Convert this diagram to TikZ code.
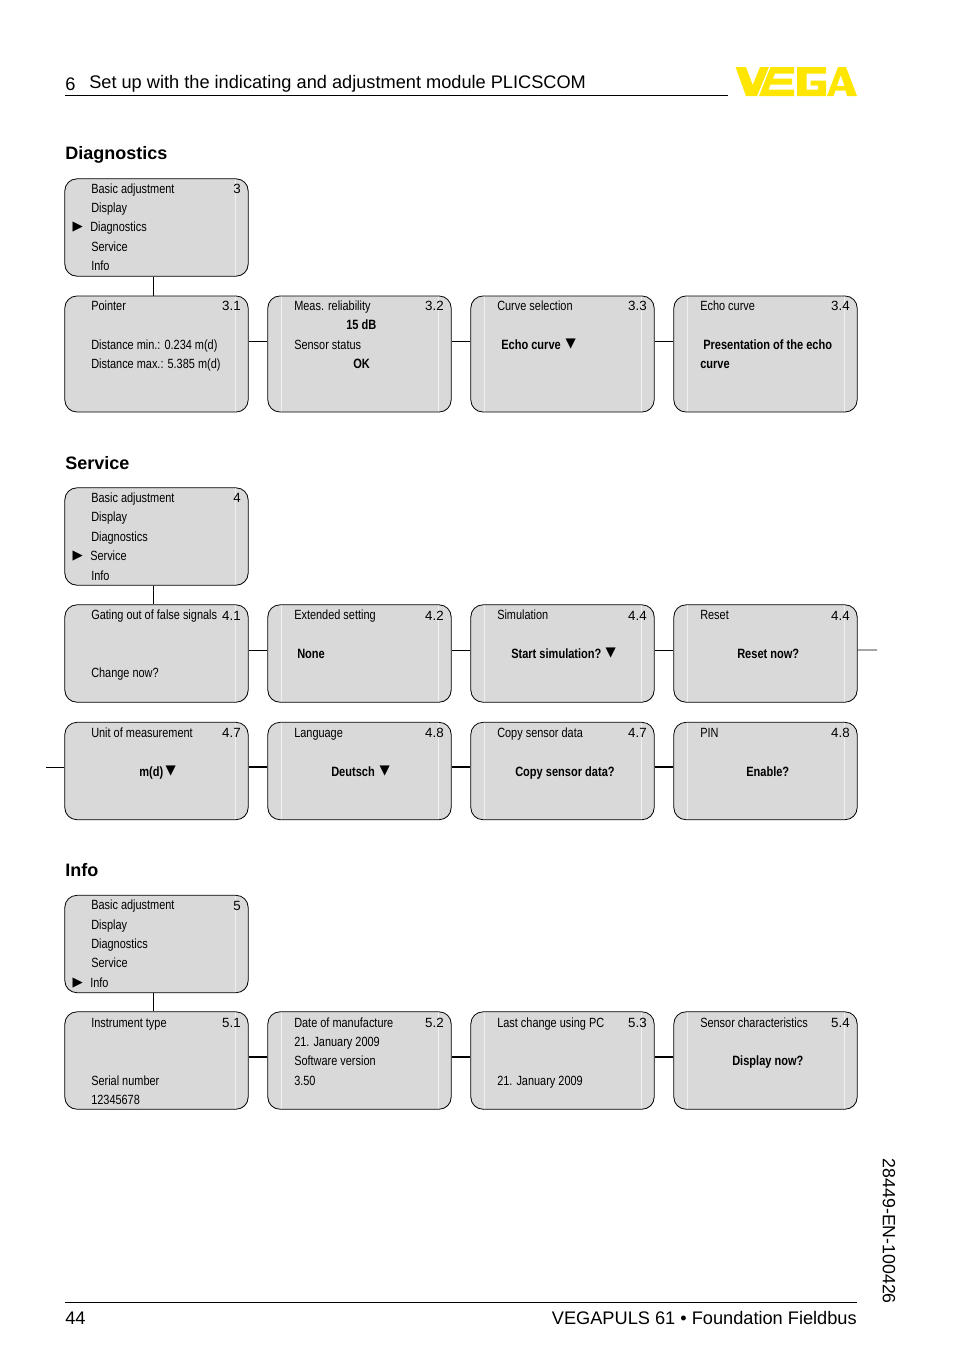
\documentclass[tikz,border=0pt]{standalone}
\usepackage{fontspec}
\setmainfont{Liberation Sans}
\newfontfamily\menufont[FakeStretch=0.82]{Liberation Sans}
\newfontfamily\symfont{DejaVu Sans}
\definecolor{boxgray}{HTML}{D9D9D9}
\definecolor{logoyellow}{HTML}{FFE600}
\usetikzlibrary{positioning}

\begin{document}
\begin{tikzpicture}[
		x=0.75pt, y=-0.75pt,
		menubox/.style={draw, fill=boxgray, rounded corners=9pt, line width=0.6pt, minimum width=137.5pt, inner sep=0pt,
			path picture={\draw[white!60!boxgray, line width=0.4pt] ([xshift=-10pt]path picture bounding box.north east) -- ([xshift=-10pt]path picture bounding box.south east);}},
		leftline/.style={draw, fill=boxgray, rounded corners=9pt, line width=0.6pt, minimum width=137.5pt, inner sep=0pt,
			path picture={\draw[white!60!boxgray, line width=0.4pt] ([xshift=-10pt]path picture bounding box.north east) -- ([xshift=-10pt]path picture bounding box.south east);
				\draw[white!60!boxgray, line width=0.4pt] ([xshift=10pt]path picture bounding box.north west) -- ([xshift=10pt]path picture bounding box.south west);}},
		menutext/.style={anchor=west, inner sep=0pt, text height=7pt, text depth=2pt, yshift=-1.5pt, font=\menufont\fontsize{10}{12}\selectfont},
		menubold/.style={anchor=west, inner sep=0pt, text height=7pt, text depth=2pt, yshift=-1.5pt, font=\menufont\bfseries\fontsize{10.1}{12}\selectfont},
		menunum/.style={anchor=east, inner sep=0pt, text height=7pt, text depth=2pt, yshift=-1.5pt, font=\fontsize{10}{12}\selectfont},
		menusym/.style={inner sep=0pt, xshift=0.5pt, yshift=-0.6pt, font=\symfont\fontsize{10}{12}\selectfont},
		heading/.style={anchor=west, inner sep=0pt, text height=10pt, text depth=3pt, yshift=-1pt, font=\bfseries\fontsize{13.5}{16}\selectfont},
		pagetext/.style={inner sep=0pt, yshift=-1pt, font=\fontsize{13.65}{16}\selectfont},
		link/.style={line width=0.6pt},
		thicklink/.style={line width=1.1pt}
	]

	\useasboundingbox (0,0) rectangle (954,1354);

	% page head and foot
	\node[pagetext, anchor=west] (chapnum) at (65,82.5) {6};
	\node[pagetext, anchor=west] (chaptitle) at (89,82.5) {Set up with the indicating and adjustment module PLICSCOM};
	\coordinate (headl) at (65,95);
	\coordinate (headr) at (728,95);
	\draw[link] (headl) -- (headr);
	\coordinate (footl) at (65,1302);
	\coordinate (footr) at (857,1302);
	\draw[link] (footl) -- (footr);
	\node[pagetext, anchor=west] (pagenum) at (65,1317) {44};
	\node[pagetext, anchor=east] (product) at (857,1317) {VEGAPULS 61 • Foundation Fieldbus};
	\node[pagetext, rotate=-90, font=\fontsize{13.3}{16}\selectfont] (docnum) at (889,1230) {28449-EN-100426};

	% logo
	\fill[logoyellow] (735.5,67) -- (746,67) -- (752.7,85) -- (760,67) -- (769,67) -- (757,96) -- (746,96) -- cycle;
	\fill[logoyellow] (770.5,67) -- (794,67) -- (794,73.5) -- (775,73.5) -- (773,78.5) -- (792,78.5) -- (792,84.5) -- (770.5,84.5) -- (768.5,89.5) -- (794,89.5) -- (794,96) -- (759,96) -- cycle;
	\fill[logoyellow] (797,67) -- (826,67) -- (826,73.5) -- (806.5,73.5) -- (806.5,89.5) -- (818,89.5) -- (818,85.5) -- (810.5,85.5) -- (810.5,80.5) -- (826,80.5) -- (826,96) -- (797,96) -- cycle;
	\fill[logoyellow, even odd rule] (838,67) -- (846,67) -- (857,96) -- (847,96) -- (845.5,90.5) -- (835.5,90.5) -- (833.5,96) -- (827,96) -- cycle (837,86) -- (844.5,86) -- (840.7,75) -- cycle;

	% Diagnostics
	\node[heading] (diaghead) at (65,153) {Diagnostics};

	\node[menubox, minimum height=73pt] (diag0) at (156.5,227.5) {};
	\node[menutext] (diag0a) at (91,188) {Basic adjustment};
	\node[menutext] (diag0b) at (91,207) {Display};
	\node[menusym] (diag0m) at (77,226) {▶};
	\node[menutext] (diag0c) at (90,226) {Diagnostics};
	\node[menutext] (diag0d) at (91,246) {Service};
	\node[menutext] (diag0e) at (91,265) {Info};
	\node[menunum] (diag0n) at (241,188) {3};

	\node[menubox, minimum height=87pt] (diag1) at (156.5,354) {};
	\node[menutext] (diag1a) at (91,305) {Pointer};
	\node[menutext] (diag1b) at (91,344) {Distance min.: 0.234 m(d)};
	\node[menutext] (diag1c) at (91,363) {Distance max.: 5.385 m(d)};
	\node[menunum] (diag1n) at (241,305) {3.1};

	\node[leftline, minimum height=87pt] (diag2) at (359.5,354) {};
	\node[menutext] (diag2a) at (294,305) {Meas. reliability};
	\node[menubold] (diag2b) at (346,324) {15 dB};
	\node[menutext] (diag2c) at (294,344) {Sensor status};
	\node[menubold] (diag2d) at (353,363) {OK};
	\node[menunum] (diag2n) at (444,305) {3.2};

	\node[leftline, minimum height=87pt] (diag3) at (562.5,354) {};
	\node[menutext] (diag3a) at (497,305) {Curve selection};
	\node[menubold] (diag3b) at (501,344) {Echo curve};
	\node[menusym] (diag3m) at (570,343) {▼};
	\node[menunum] (diag3n) at (647,305) {3.3};

	\node[leftline, minimum height=87pt] (diag4) at (765.5,354) {};
	\node[menutext] (diag4a) at (700,305) {Echo curve};
	\node[menubold] (diag4b) at (703,344) {Presentation of the echo};
	\node[menubold] (diag4c) at (700,363) {curve};
	\node[menunum] (diag4n) at (850,305) {3.4};

	\draw[link] ([xshift=-2.6pt]diag0.south) -- ([xshift=-2.6pt]diag1.north);
	\draw[link] ([yshift=9.4pt]diag1.east) -- ([yshift=9.4pt]diag2.west);
	\draw[link] ([yshift=9.4pt]diag2.east) -- ([yshift=9.4pt]diag3.west);
	\draw[link] ([yshift=9.4pt]diag3.east) -- ([yshift=9.4pt]diag4.west);

	% Service
	\node[heading] (servhead) at (65,463) {Service};

	\node[menubox, minimum height=73pt] (serv0) at (156.5,536.5) {};
	\node[menutext] (serv0a) at (91,497) {Basic adjustment};
	\node[menutext] (serv0b) at (91,516) {Display};
	\node[menutext] (serv0c) at (91,536) {Diagnostics};
	\node[menusym] (serv0m) at (77,555) {▶};
	\node[menutext] (serv0d) at (90,555) {Service};
	\node[menutext] (serv0e) at (91,575) {Info};
	\node[menunum] (serv0n) at (241,497) {4};

	\node[menubox, minimum height=73pt] (serv1) at (156.5,653.5) {};
	\node[menutext] (serv1a) at (91,614) {Gating out of false signals};
	\node[menutext] (serv1b) at (91,672) {Change now?};
	\node[menunum] (serv1n) at (241,615) {4.1};

	\node[leftline, minimum height=73pt] (serv2) at (359.5,653.5) {};
	\node[menutext] (serv2a) at (294,614) {Extended setting};
	\node[menubold] (serv2b) at (297,653) {None};
	\node[menunum] (serv2n) at (444,615) {4.2};

	\node[leftline, minimum height=73pt] (serv3) at (562.5,653.5) {};
	\node[menutext] (serv3a) at (497,614) {Simulation};
	\node[menubold] (serv3b) at (511,653) {Start simulation?};
	\node[menusym] (serv3m) at (610,652) {▼};
	\node[menunum] (serv3n) at (647,615) {4.4};

	\node[leftline, minimum height=73pt] (serv4) at (765.5,653.5) {};
	\node[menutext] (serv4a) at (700,614) {Reset};
	\node[menubold] (serv4b) at (737,653) {Reset now?};
	\node[menunum] (serv4n) at (850,615) {4.4};

	\node[menubox, minimum height=73pt] (serv5) at (156.5,771) {};
	\node[menutext] (serv5a) at (91,732) {Unit of measurement};
	\node[menubold] (serv5b) at (139,771) {m(d)};
	\node[menusym] (serv5m) at (170,770) {▼};
	\node[menunum] (serv5n) at (241,732) {4.7};

	\node[leftline, minimum height=73pt] (serv6) at (359.5,771) {};
	\node[menutext] (serv6a) at (294,732) {Language};
	\node[menubold] (serv6b) at (331,771) {Deutsch};
	\node[menusym] (serv6m) at (384,770) {▼};
	\node[menunum] (serv6n) at (444,732) {4.8};

	\node[leftline, minimum height=73pt] (serv7) at (562.5,771) {};
	\node[menutext] (serv7a) at (497,732) {Copy sensor data};
	\node[menubold] (serv7b) at (515,771) {Copy sensor data?};
	\node[menunum] (serv7n) at (647,732) {4.7};

	\node[leftline, minimum height=73pt] (serv8) at (765.5,771) {};
	\node[menutext] (serv8a) at (700,732) {PIN};
	\node[menubold] (serv8b) at (746,771) {Enable?};
	\node[menunum] (serv8n) at (850,732) {4.8};

	\coordinate (servout) at (877,650);
	\coordinate (servin) at (46,767);

	\draw[link] ([xshift=-2.6pt]serv0.south) -- ([xshift=-2.6pt]serv1.north);
	\draw[link] ([yshift=2.6pt]serv1.east) -- ([yshift=2.6pt]serv2.west);
	\draw[link] ([yshift=2.6pt]serv2.east) -- ([yshift=2.6pt]serv3.west);
	\draw[link] ([yshift=2.6pt]serv3.east) -- ([yshift=2.6pt]serv4.west);
	\draw[link] ([yshift=2.6pt]serv4.east) -- (servout);
	\draw[link] (servin) -- ([yshift=3pt]serv5.west);
	\draw[thicklink] ([yshift=3pt]serv5.east) -- ([yshift=3pt]serv6.west);
	\draw[thicklink] ([yshift=3pt]serv6.east) -- ([yshift=3pt]serv7.west);
	\draw[thicklink] ([yshift=3pt]serv7.east) -- ([yshift=3pt]serv8.west);

	% Info
	\node[heading] (infohead) at (65,870) {Info};

	\node[menubox, minimum height=73pt] (info0) at (156.5,944) {};
	\node[menutext] (info0a) at (91,904) {Basic adjustment};
	\node[menutext] (info0b) at (91,924) {Display};
	\node[menutext] (info0c) at (91,943) {Diagnostics};
	\node[menutext] (info0d) at (91,962) {Service};
	\node[menusym] (info0m) at (77,982) {▶};
	\node[menutext] (info0e) at (90,982) {Info};
	\node[menunum] (info0n) at (241,905) {5};

	\node[menubox, minimum height=73pt] (info1) at (156.5,1060.5) {};
	\node[menutext] (info1a) at (91,1022) {Instrument type};
	\node[menutext] (info1b) at (91,1080) {Serial number};
	\node[menutext] (info1c) at (91,1099) {12345678};
	\node[menunum] (info1n) at (241,1022) {5.1};

	\node[leftline, minimum height=73pt] (info2) at (359.5,1060.5) {};
	\node[menutext] (info2a) at (294,1022) {Date of manufacture};
	\node[menutext] (info2b) at (294,1041) {21. January 2009};
	\node[menutext] (info2c) at (294,1060) {Software version};
	\node[menutext] (info2d) at (294,1080) {3.50};
	\node[menunum] (info2n) at (444,1022) {5.2};

	\node[leftline, minimum height=73pt] (info3) at (562.5,1060.5) {};
	\node[menutext] (info3a) at (497,1022) {Last change using PC};
	\node[menutext] (info3b) at (497,1080) {21. January 2009};
	\node[menunum] (info3n) at (647,1022) {5.3};

	\node[leftline, minimum height=73pt] (info4) at (765.5,1060.5) {};
	\node[menutext] (info4a) at (700,1022) {Sensor characteristics};
	\node[menubold] (info4b) at (732,1060) {Display now?};
	\node[menunum] (info4n) at (850,1022) {5.4};

	\draw[link] ([xshift=-2.6pt]info0.south) -- ([xshift=-2.6pt]info1.north);
	\draw[thicklink] ([yshift=2.6pt]info1.east) -- ([yshift=2.6pt]info2.west);
	\draw[thicklink] ([yshift=2.6pt]info2.east) -- ([yshift=2.6pt]info3.west);
	\draw[thicklink] ([yshift=2.6pt]info3.east) -- ([yshift=2.6pt]info4.west);

\end{tikzpicture}
\end{document}
